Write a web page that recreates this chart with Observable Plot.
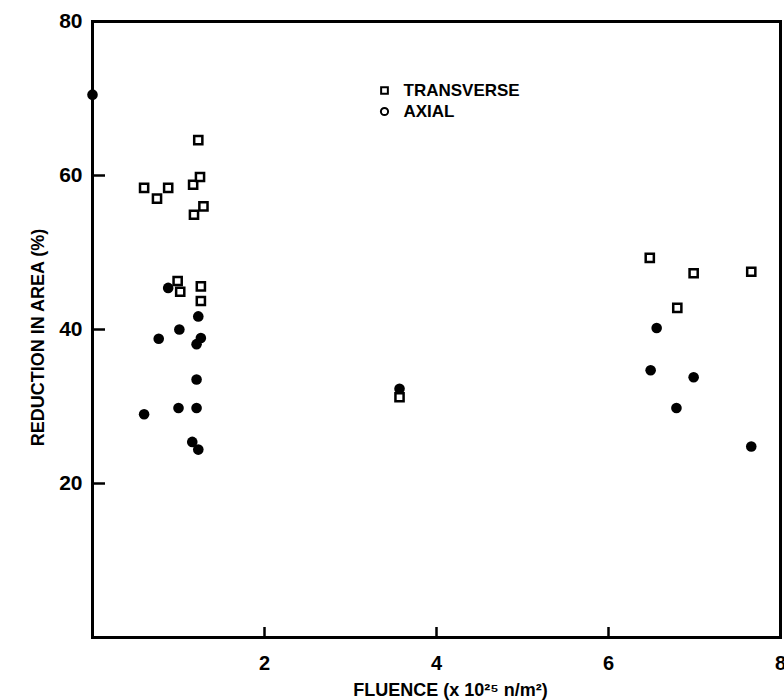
<!DOCTYPE html>
<html>
<head>
<meta charset="utf-8">
<script src="https://cdn.jsdelivr.net/npm/d3@7"></script>
<script src="https://cdn.jsdelivr.net/npm/@observablehq/plot@0.6"></script>
<style>
  html, body { margin: 0; padding: 0; background: white; }
</style>
</head>
<body>
<div id="chart"></div>
<script>
// Transverse specimens (open squares)
const transverseX = [0.60, 0.75, 0.88, 1.17, 1.25, 1.23, 1.18, 1.29, 0.99, 1.02, 1.26, 1.26, 3.57, 6.48, 6.99, 7.66, 6.80];
const transverseY = [58.4, 57.0, 58.4, 58.8, 59.8, 64.6, 54.9, 56.0, 46.3, 44.9, 45.6, 43.7, 31.2, 49.3, 47.3, 47.5, 42.8];
// Axial specimens (filled circles)
const axialX = [0.00, 0.88, 1.23, 1.01, 0.77, 1.26, 1.21, 1.21, 0.60, 1.00, 1.21, 1.16, 1.23, 3.57, 6.56, 6.49, 6.99, 6.79, 7.66];
const axialY = [70.5, 45.4, 41.7, 40.0, 38.8, 38.9, 38.1, 33.5, 29.0, 29.8, 29.8, 25.4, 24.4, 32.3, 40.2, 34.7, 33.8, 29.8, 24.8];

const xTickLabels = [2, 4, 6, 8];
const yTickLabels = [20, 40, 60, 80];
const xTickMarks = [2, 4, 6];
const yTickMarks = [20, 40, 60];

const legendLabels = ["TRANSVERSE", "AXIAL"];
const xTitle = "FLUENCE (x 10\u00B2\u2075 n/m\u00B2)";
const yTitle = "REDUCTION IN AREA (%)";

const transverse = transverseX.map((x, i) => ({x, y: transverseY[i]}));
const axial = axialX.map((x, i) => ({x, y: axialY[i]}));

const W = 784, H = 700, ML = 92, MR = 4, MT = 21, MB = 63;
const FW = W - ML - MR, FH = H - MT - MB;

const chart = Plot.plot({
  width: W,
  height: H,
  marginLeft: ML,
  marginRight: MR,
  marginTop: MT,
  marginBottom: MB,
  x: {domain: [0, 8]},
  y: {domain: [0, 80]},
  style: {fontFamily: "'Liberation Sans', Arial, sans-serif", fontWeight: "bold", background: "white", color: "black", overflow: "visible"},
  marks: [
    Plot.frame({stroke: "black", strokeWidth: 3}),
    Plot.axisY({ticks: yTickLabels, tickSize: 0, tickPadding: 10, fontSize: 21, fontWeight: "bold", label: null}),
    Plot.axisX({ticks: xTickLabels, tickSize: 0, tickPadding: 18, fontSize: 20, fontWeight: "bold", label: null}),
    Plot.tickY(yTickMarks, {y: d => d, insetRight: FW - 13, stroke: "black", strokeWidth: 2.5}),
    Plot.tickX(xTickMarks, {x: d => d, insetTop: FH - 10, stroke: "black", strokeWidth: 2.5}),
    Plot.dot(transverse, {x: "x", y: "y", symbol: "square", r: 4.6, stroke: "black", strokeWidth: 2.5, fill: "white"}),
    Plot.dot(axial, {x: "x", y: "y", r: 5.3, fill: "black", stroke: "none"}),
    // legend
    Plot.dot([legendLabels[0]], {frameAnchor: "top-left", dx: 292, dy: 69, symbol: "square", r: 3.8, stroke: "black", strokeWidth: 2, fill: "white"}),
    Plot.dot([legendLabels[1]], {frameAnchor: "top-left", dx: 292, dy: 90, symbol: "circle", r: 3.6, stroke: "black", strokeWidth: 2, fill: "white"}),
    Plot.text([legendLabels[0]], {text: d => d, frameAnchor: "top-left", dx: 311, dy: 69, textAnchor: "start", lineAnchor: "middle", fontSize: 17, fontWeight: "bold", letterSpacing: 1}),
    Plot.text([legendLabels[1]], {text: d => d, frameAnchor: "top-left", dx: 311, dy: 90, textAnchor: "start", lineAnchor: "middle", fontSize: 17, fontWeight: "bold", letterSpacing: 1}),
    // axis titles
    Plot.text([xTitle], {text: d => d, frameAnchor: "bottom", textAnchor: "middle", lineAnchor: "middle", dx: 14, dy: 53, fontSize: 18, fontWeight: "bold"}),
    Plot.text([yTitle], {text: d => d, frameAnchor: "left", textAnchor: "middle", lineAnchor: "middle", dx: -54, dy: 8, rotate: -90, fontSize: 18, fontWeight: "bold"})
  ]
});

document.getElementById("chart").appendChild(chart);
</script>
</body>
</html>
